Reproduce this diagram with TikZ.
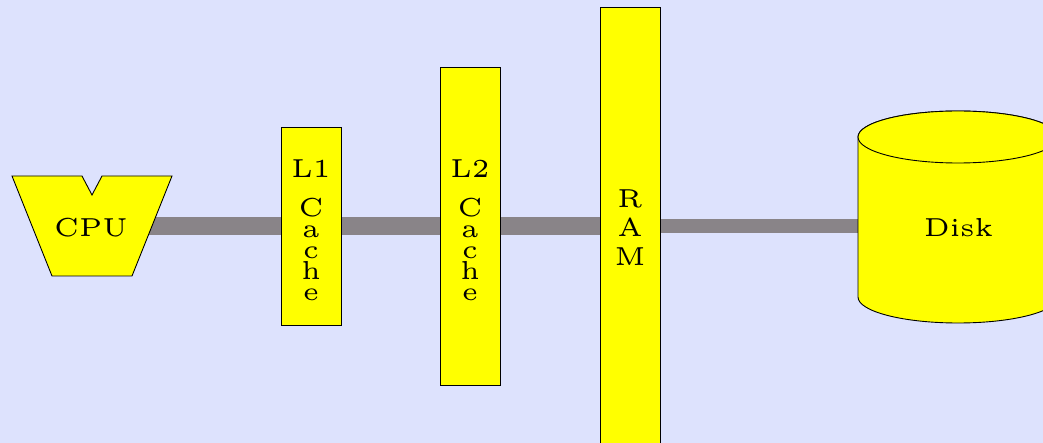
\documentclass[tikz,border=0pt]{standalone}
\usepackage{fontspec}
\newfontfamily\lmfive{lmroman5-regular.otf}
\pgfdeclarelayer{bg}
\pgfdeclarelayer{bus}
\pgfsetlayers{bg,bus,main}
\definecolor{bgblue}{RGB}{221,226,253}
\definecolor{busgray}{RGB}{137,132,136}
\definecolor{boxyellow}{RGB}{255,255,0}
\tikzset{
  unit/.style={draw=black, fill=boxyellow, line width=0.9pt, minimum width=60pt, inner sep=0pt},
  txt/.style={font=\lmfive\fontsize{26}{21}\selectfont, align=center, inner sep=0pt},
  ramtxt/.style={font=\lmfive\fontsize{26}{29}\selectfont, align=center, inner sep=0pt},
  bus/.style={line width=18pt, draw=busgray},
  thinbus/.style={line width=14pt, draw=busgray},
  shapeline/.style={draw=black, fill=boxyellow, line width=0.9pt}
}
\begin{document}
\begin{tikzpicture}[x=1pt,y=-1pt]
\useasboundingbox (0,0) rectangle (1043,443);
\begin{pgfonlayer}{bg}
  \fill[bgblue] (0,0) rectangle (1043,443);
\end{pgfonlayer}
% CPU
\filldraw[shapeline] (12,176) -- (82,176) -- (92,195) -- (102,176) -- (172,176) -- (132,276) -- (52,276) -- cycle;
\node[txt, anchor=base] (cpu) at (91,237) {CPU};
% caches and RAM
\node[unit, minimum height=198pt] (l1) at (311,226) {};
\node[txt, anchor=north] (l1t) at (311,159.2) {L1\\[18pt]C\\a\\c\\h\\e};
\node[unit, minimum height=318pt] (l2) at (470,226) {};
\node[txt, anchor=north] (l2t) at (470,159.2) {L2\\[18pt]C\\a\\c\\h\\e};
\node[unit, minimum height=438pt] (ram) at (630,226) {};
\node[ramtxt, anchor=north] (ramt) at (630,189.2) {R\\A\\M};
% disk
\filldraw[shapeline] (858,137) -- (858,297) arc[start angle=180, end angle=0, x radius=100, y radius=26] -- (1058,137) arc[start angle=0, end angle=-180, x radius=100, y radius=26] -- cycle;
\filldraw[shapeline] (958,137) ellipse[x radius=100, y radius=26];
\node[minimum width=200pt, minimum height=160pt, inner sep=0pt] (disk) at (958,217) {};
\node[txt, anchor=base] (diskt) at (958.5,237) {Disk};
% bus
\begin{pgfonlayer}{bus}
  \draw[bus] (cpu.center |- l1.center) -- (l1.center) -- (l2.center) -- (ram.center);
  \draw[thinbus] (ram.center) -- (ram.center -| disk.center);
\end{pgfonlayer}
\end{tikzpicture}
\end{document}
